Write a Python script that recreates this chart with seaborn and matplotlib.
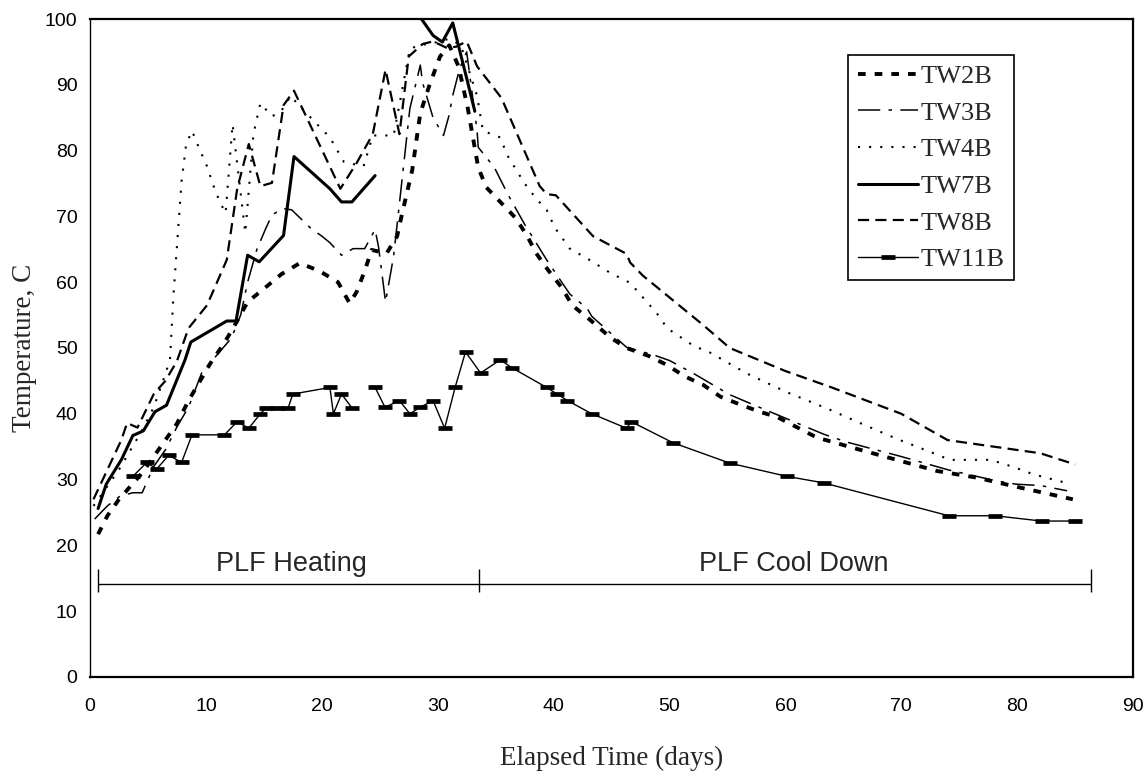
import numpy as np
import pandas as pd
import matplotlib
matplotlib.use("Agg")
import matplotlib.pyplot as plt
import seaborn as sns
from matplotlib.lines import Line2D

# ---------------- data ----------------
nan = np.nan
tw2b_day = [0.7, 1.5, 2.5, 3.5, 4.5, 5.5, 6.5, 7.5, 8.5, 9.5, 10.5, 11.5, 12.5, 13.6, 15.0, 16.5, 18.1, 19.8,
            21.4, 22.4, 23.0, 23.7, 24.3, 25.6, 26.5, 26.9, 27.8, 28.2, 28.5, 29.3, 30.2, 31.0, 31.8, 32.6,
            33.5, 34.2, 35.4, 36.7, 37.7, 38.5, 39.5, 40.7, 41.6, 43.2, 44.9, 46.3, 48.2, 49.8, 51.3, 52.9,
            54.4, 56.1, 57.8, 59.3, 62.7, 66.1, 69.6, 73.1, 76.5, 80.2, 83.8, 84.8]
tw2b_temp = [21.7, 24.5, 27.0, 29.0, 31.0, 33.5, 36.0, 38.5, 42.0, 45.0, 48.0, 50.5, 53.5, 57.0, 59.0, 61.2, 62.9, 61.7,
             60.0, 56.8, 58.5, 61.7, 64.9, 64.4, 67.0, 70.2, 77.0, 82.0, 85.7, 90.0, 94.3, 96.0, 92.8, 86.4,
             77.4, 74.4, 72.2, 69.8, 67.1, 64.4, 61.9, 59.2, 56.5, 54.2, 51.6, 50.0, 48.8, 47.4, 45.7, 44.4,
             42.6, 41.4, 40.3, 39.5, 36.4, 34.7, 33.0, 31.3, 30.3, 28.8, 27.4, 27.0]

tw3b_day = [0.4, 1.5, 2.6, 3.7, 4.5, 5.5, 6.5, 7.5, 8.5, 9.7, 10.5, 12.2, 13.0, 13.6, 14.4, 15.2, 15.7, 16.6, 17.4,
            19.1, 20.0, 20.7, 21.7, 22.7, 23.7, 24.6, 24.9, 25.5, 26.2, 27.6, 28.5, 28.7, 29.6, 30.5, 31.0,
            31.3, 31.9, 32.5, 33.4, 33.5, 34.9, 36.1, 37.5, 39.4, 40.7, 41.4, 42.9, 43.3, 44.7, 46.3, 48.7,
            50.0, 52.1, 55.2, 57.2, 63.3, 65.3, 70.0, 74.0, 78.2, 79.9, 82.0, 84.3]
tw3b_temp = [24.0, 26.0, 27.5, 28.0, 28.0, 32.0, 34.5, 38.0, 41.0, 46.5, 48.0, 51.5, 55.0, 60.0, 65.0, 68.3, 70.2, 71.2, 71.0,
             68.1, 67.0, 66.0, 64.1, 65.1, 65.1, 68.0, 65.3, 57.0, 64.0, 86.4, 93.0, 90.3, 85.0, 82.3, 85.5,
             88.4, 92.5, 95.0, 83.0, 80.5, 77.4, 73.2, 68.8, 63.4, 60.0, 58.2, 56.0, 54.8, 52.6, 50.1, 48.9,
             48.1, 46.1, 42.9, 41.4, 36.9, 35.7, 33.5, 31.5, 29.8, 29.3, 29.1, 28.3]

tw4b_day = [0.3, 1.5, 2.5, 3.5, 4.5, 5.5, 6.3, 6.9, 7.2, 7.9, 8.3, 8.8, 9.5, 10.1, 10.6, 11.2, 11.7, 12.3, 13.4,
            14.1, 14.7, 15.7, 16.5, 17.3, 18.5, 20.7, 21.9, 23.6, 24.4, 26.2, 27.6, 28.5, 30.0, 31.0, 32.0,
            33.4, 33.9, 35.4, 36.0, 37.5, 38.5, 39.4, 40.1, 41.4, 42.9, 44.9, 46.6, 47.7, 48.9, 49.8, 52.1,
            53.5, 56.7, 60.1, 63.6, 66.7, 69.6, 72.8, 74.2, 77.7, 79.7, 81.4, 84.0]
tw4b_temp = [26.0, 29.0, 31.5, 34.5, 37.5, 41.0, 45.0, 48.2, 58.0, 75.3, 81.0, 83.0, 80.0, 77.6, 74.9, 72.2, 70.5, 84.0, 67.5,
             82.5, 87.2, 85.2, 86.0, 88.3, 86.0, 82.0, 78.3, 77.6, 82.3, 82.3, 95.5, 96.0, 96.5, 97.0, 96.0,
             88.3, 83.0, 82.0, 79.3, 75.0, 72.7, 71.0, 68.3, 65.1, 63.6, 61.4, 59.9, 57.7, 55.3, 53.0, 50.3,
             49.3, 46.1, 43.3, 40.8, 38.4, 36.2, 34.0, 33.0, 33.0, 31.9, 30.8, 29.6]

tw7b_day = [0.7, 1.4, 2.7, 3.7, 4.6, 5.6, 6.6, 8.2, 8.7, 11.8, 12.6, 13.6, 14.6, 16.7, 17.6, 20.7, 21.7, 22.6, 24.6,
            nan, 27.8, 29.6, 30.4, 31.3, 32.5, 33.2]
tw7b_temp = [25.6, 29.3, 33.0, 36.7, 37.4, 40.3, 41.3, 48.2, 50.9, 54.1, 54.1, 64.1, 63.1, 67.1, 79.1, 74.2, 72.2, 72.2, 76.2,
             nan, 102.0, 97.5, 96.5, 99.4, 91.0, 86.0]

tw8b_day = [0.3, 1.5, 2.7, 3.2, 4.1, 5.5, 6.5, 7.5, 8.5, 10.1, 11.8, 12.7, 13.7, 14.7, 15.7, 16.7, 17.6, 21.6, 23.0,
            24.4, 25.5, 26.7, 27.5, 28.7, 29.6, 30.8, 31.6, 32.5, 33.4, 35.5, 38.8, 39.4, 40.2, 43.4, 46.3,
            46.6, 47.7, 52.9, 55.2, 60.0, 64.0, 70.0, 74.0, 78.0, 82.0, 85.0]
tw8b_temp = [27.0, 31.5, 36.0, 38.6, 37.9, 43.0, 45.0, 48.0, 53.0, 56.5, 63.4, 74.2, 81.0, 74.6, 75.1, 86.9, 89.1, 74.2, 78.1,
             82.5, 92.3, 82.5, 94.3, 96.2, 96.6, 95.6, 95.8, 96.6, 92.8, 88.0, 74.6, 73.4, 73.2, 67.0, 64.3,
             63.0, 61.0, 53.5, 50.0, 46.5, 44.0, 40.0, 36.0, 35.0, 34.0, 32.3]

tw11b_day = [3.7, 4.9, 5.75, 6.8, 7.9, 8.8, 11.6, 12.7, 13.7, 14.7, 15.2, 16.1, 17.1, 17.5, 20.7, 21.0, 21.7, 22.6,
             nan, 24.6, 25.45, 26.7, 27.6, 28.5, 29.6, 30.6, 31.5, 32.4, 33.7, 35.4, 36.4, 39.4, 40.3, 41.2,
             43.3, 46.3, 46.7, 50.3, 55.2, 60.1, 63.3, 74.1, 78.1, 82.1, 85.0]
tw11b_temp = [30.5, 32.6, 31.6, 33.7, 32.6, 36.8, 36.8, 38.8, 37.8, 40.0, 40.9, 40.9, 40.9, 43.0, 44.0, 40.0, 43.0, 40.9,
              nan, 44.0, 41.0, 42.0, 40.0, 41.0, 42.0, 37.8, 44.0, 49.4, 46.2, 48.2, 47.0, 44.0, 43.0, 42.0,
              40.0, 37.8, 38.8, 35.6, 32.5, 30.5, 29.5, 24.5, 24.5, 23.7, 23.7]

series_names = ["TW2B", "TW3B", "TW4B", "TW7B", "TW8B", "TW11B"]
series_days = [tw2b_day, tw3b_day, tw4b_day, tw7b_day, tw8b_day, tw11b_day]
series_temps = [tw2b_temp, tw3b_temp, tw4b_temp, tw7b_temp, tw8b_temp, tw11b_temp]

phase_bounds = [0.7, 33.6, 86.4]
phase_labels = ["PLF Heating", "PLF Cool Down"]
phase_label_x = [17.4, 60.7]
bracket_y = 14.2

# ---------------- long table (NaN starts a new segment) ----------------
rows = []
for name, days, temps in zip(series_names, series_days, series_temps):
    seg = 0
    for d, t in zip(days, temps):
        if np.isnan(d):
            seg += 1
            continue
        rows.append({"series": name, "day": d, "temp": t, "seg": seg})
df = pd.DataFrame(rows)

# ---------------- style ----------------
sns.set_theme(style="white")
plt.rcParams["font.family"] = ["Liberation Sans", "DejaVu Sans"]
plt.rcParams["lines.scale_dashes"] = False

styles = {
    "TW2B": dict(lw=2.8, ls=(0, (5.5, 6.5)), marker=None),
    "TW3B": dict(lw=1.1, ls=(0, (16, 6, 2.5, 6)), marker=None),
    "TW4B": dict(lw=1.5, ls=(0, (1.5, 6.5)), marker=None),
    "TW7B": dict(lw=2.2, ls="-", marker=None),
    "TW8B": dict(lw=1.6, ls=(0, (8, 4.5)), marker=None),
    "TW11B": dict(lw=1.0, ls="-", marker="_"),
}

fig = plt.figure(figsize=(11.48, 7.82), dpi=100)
ax = fig.add_axes([0.0784, 0.1343, 0.9086, 0.8414])

handles = []
for name in series_names:
    st = styles[name]
    sub = df[df["series"] == name]
    extra = {}
    if st["marker"]:
        extra = dict(marker=st["marker"], markersize=10, markeredgewidth=3.4,
                     markeredgecolor="black")
    sns.lineplot(data=sub, x="day", y="temp", units="seg", estimator=None, sort=False,
                 ax=ax, color="black", linewidth=st["lw"], linestyle=st["ls"], **extra)
    handles.append(Line2D([], [], color="black", linewidth=st["lw"], linestyle=st["ls"],
                          **({} if not st["marker"] else dict(marker="_", markersize=10,
                                                               markeredgewidth=3.4,
                                                               markevery=[1]))))

# phase bracket
ax.hlines(bracket_y, phase_bounds[0], phase_bounds[-1], color="black", lw=1.0)
ax.vlines(phase_bounds, bracket_y - 1.3, bracket_y + 2.2, color="black", lw=1.0)
for lab, xx in zip(phase_labels, phase_label_x):
    ax.text(xx, bracket_y + 1.9, lab, ha="center", va="baseline", fontsize=19.5,
            family=["Liberation Sans", "DejaVu Sans"])

ax.set_xlim(0, 90)
ax.set_ylim(0, 100)
ax.set_xticks(np.arange(0, 91, 10))
ax.set_yticks(np.arange(0, 101, 10))
ax.tick_params(axis="x", direction="in", length=5, width=1, labelsize=14, pad=15, colors="black")
ax.tick_params(axis="y", direction="out", length=5, width=1, labelsize=14, pad=4, colors="black")
ax.set_xlabel("Elapsed Time (days)", family=["Liberation Serif", "DejaVu Serif"], fontsize=19.5, labelpad=22)
ax.set_ylabel("Temperature, C", family=["Liberation Serif", "DejaVu Serif"], fontsize=19.5, labelpad=6)

for side in ["top", "right", "bottom"]:
    ax.spines[side].set_color("black")
    ax.spines[side].set_linewidth(1.6)
ax.spines["left"].set_color("black")
ax.spines["left"].set_linewidth(1.0)

leg = ax.legend(handles, series_names, loc="upper left", bbox_to_anchor=(0.727, 0.945),
                frameon=True, fancybox=False, framealpha=1, edgecolor="black",
                prop={"family": ["Liberation Serif", "DejaVu Serif"], "size": 19},
                handlelength=2.3, handletextpad=0.1, labelspacing=0.5, borderpad=0.35,
                borderaxespad=0)
leg.get_frame().set_linewidth(1.2)

fig.savefig("out.png", dpi=100)
